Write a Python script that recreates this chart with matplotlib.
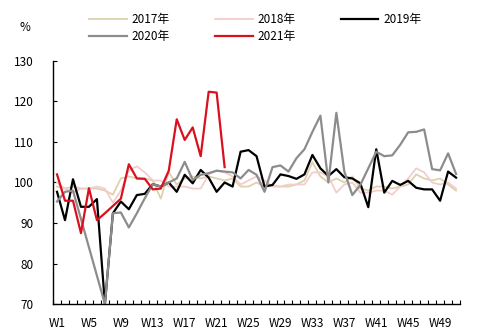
import matplotlib
matplotlib.use("Agg")
import matplotlib.pyplot as plt
import numpy as np

plt.rcParams['font.family'] = ['Noto Sans CJK SC', 'DejaVu Sans']

weeks = [f"W{i}" for i in range(1, 52)]

y2017 = [99, 98.5, 99, 98.5, 98.5, 98.5, 98, 97, 101, 101.5, 101, 101, 100.5, 96, 102.5,
         99.5, 101, 101.5, 101, 101.5, 101, 100.5, 101, 99, 99, 100, 99, 99.2, 99, 99,
         99.5, 100.5, 105, 101.5, 100, 101, 100, 101.5, 98.5, 98, 99, 99, 98.5, 99, 99.5,
         102, 101, 100.5, 101, 99.5, 98]
y2018 = [100, 98.5, 97.5, 98.5, 98.5, 99, 98.5, 95, 98, 103, 104, 102.5, 100.5, 100.5, 99,
         99, 99, 98.5, 98.5, 102, 103, 102.5, 101.5, 99.5, 100.5, 101.5, 100.5, 99, 99, 99.5,
         99.5, 99.5, 102.5, 102.5, 101.5, 97.5, 99.5, 100, 97.5, 97.5, 98, 98, 97, 99, 101,
         103.5, 102.5, 100, 99.5, 100, 98.5]
y2019 = [97.7, 90.7, 100.8, 94, 94, 95.9, 70, 92.4, 95.3, 93.4, 96.9, 97.2, 99.6, 99, 100,
         97.7, 101.9, 99.8, 103.1, 101.2, 97.7, 100, 99, 107.6, 108, 106.5, 99, 99.4, 102, 101.6,
         100.9, 102, 106.8, 103.5, 101.6, 103.3, 101.3, 101, 99.8, 93.9, 108.2, 97.5, 100.4, 99.4, 100.4,
         98.7, 98.3, 98.3, 95.5, 102.7, 101.2]
y2020 = [95.3, 97.7, 98, 91, 84, 77, 70, 92.4, 92.6, 88.9, 92.4, 96.1, 99.6, 99, 100,
         101, 105.1, 100.6, 101.9, 102.3, 102.9, 102.7, 102.5, 101, 103.1, 101.9, 97.7, 103.8, 104.2, 102.7,
         106, 108.2, 112.5, 116.5, 100, 117.2, 102.7, 96.9, 99.4, 103.5, 107.6, 106.5, 106.7, 109.3, 112.4,
         112.5, 113.1, 103.3, 103, 107.2, 102.1]
y2021 = [102, 95.5, 95.5, 87.5, 98.6, 90.7, 92.4, 94.2, 96, 104.5, 101, 100.9, 98.3, 98.5, 102.9,
         115.6, 110.5, 113.6, 106.5, 122.4, 122.2, 103.8]

series = [("2017年", y2017, "#DDD1B0", 1.3),
          ("2018年", y2018, "#F3CDCB", 1.3),
          ("2019年", y2019, "#000000", 1.6),
          ("2020年", y2020, "#8C8C8C", 1.6),
          ("2021年", y2021, "#D9101E", 1.6)]

fig = plt.figure(figsize=(4.91, 3.34), dpi=100)
ax = fig.add_axes([0.108, 0.0898, 0.829, 0.7276])

handles = {}
x = np.arange(len(weeks))
for name, vals, col, lw in series:
    h, = ax.plot(x[:len(vals)], vals, color=col, lw=lw, label=name, clip_on=False)
    handles[name] = h

ax.set_xlim(-0.5, len(weeks) - 0.5)
ax.set_ylim(70, 130)
ax.set_yticks(np.arange(70, 131, 10))
ax.set_xticks(np.arange(0, len(weeks), 4))
ax.set_xticklabels(weeks[::4], fontsize=8.5)
ax.set_xticks(np.arange(-0.5, len(weeks), 1), minor=True)
ax.tick_params(axis='x', which='major', length=0, pad=9)
ax.tick_params(axis='x', which='minor', direction='in', length=3, width=0.8)
ax.tick_params(axis='y', direction='in', length=3, width=0.8, labelsize=8.5, pad=14)
for s in ['top', 'right']:
    ax.spines[s].set_visible(False)
for s in ['left', 'bottom']:
    ax.spines[s].set_color('black')
    ax.spines[s].set_linewidth(1.0)

order = ["2017年", "2020年", "2018年", "2021年", "2019年"]
fig.legend([handles[n] for n in order], order, ncol=3, frameon=False,
           loc='upper left', bbox_to_anchor=(0.165, 0.985), fontsize=8.5,
           handlelength=3.2, handletextpad=0.4, columnspacing=3.8,
           labelspacing=0.3, borderpad=0.2)
fig.text(0.051, 0.919, "%", ha='center', va='center', fontsize=8.5)

fig.savefig("out.png", dpi=100)
